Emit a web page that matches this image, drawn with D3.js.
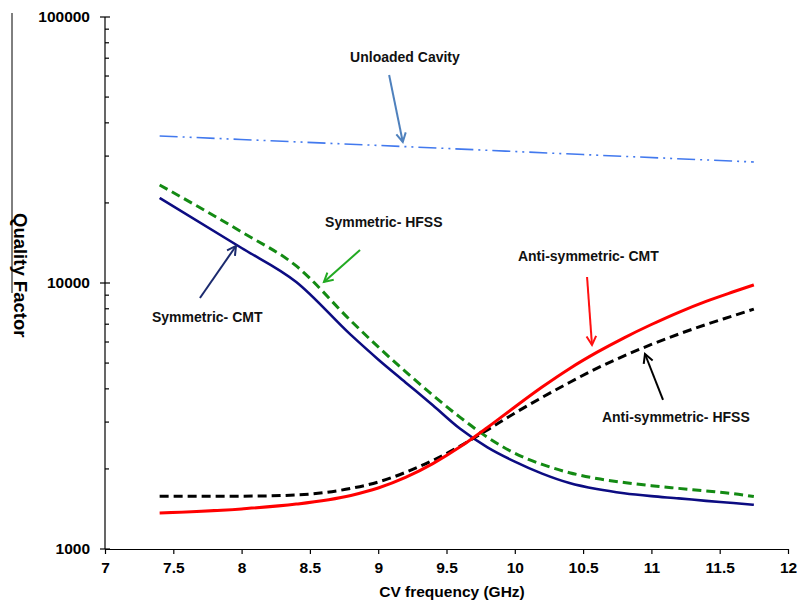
<!DOCTYPE html>
<html>
<head>
<meta charset="utf-8">
<script src="https://cdn.jsdelivr.net/npm/d3@7"></script>
<style>
  body { margin: 0; background: #fff; }
  svg text { font-family: "Liberation Sans", Arial, sans-serif; }
</style>
</head>
<body>
<svg id="chart" width="797" height="600"></svg>
<script>
// frequency samples (GHz)
var freq = [7.4, 8.0, 8.4, 8.8, 9.0, 9.2, 9.4, 9.6, 9.8, 10.0, 10.2, 10.4, 10.6, 10.8, 11.0, 11.2, 11.4, 11.6, 11.75];

// quality factor series
var symCMT   = [20870, 13540, 10090, 6380, 5160, 4230, 3470, 2830, 2410, 2130, 1920, 1770, 1680, 1620, 1580, 1550, 1517, 1489, 1466];
var symHFSS  = [23360, 15550, 11590, 7210, 5750, 4645, 3785, 3125, 2630, 2290, 2080, 1936, 1841, 1778, 1730, 1690, 1652, 1614, 1574];
var antiCMT  = [1365, 1415, 1475, 1590, 1695, 1858, 2094, 2421, 2864, 3420, 4064, 4764, 5483, 6223, 6982, 7762, 8531, 9268, 9840];
var antiHFSS = [1580, 1580, 1596, 1690, 1786, 1941, 2153, 2438, 2805, 3243, 3715, 4227, 4775, 5321, 5875, 6427, 6982, 7534, 7980];

var cavFreq = [7.4, 9.0, 10.5, 11.75];
var cavQ    = [35700, 32900, 30400, 28500];

var xTicks = [7, 7.5, 8, 8.5, 9, 9.5, 10, 10.5, 11, 11.5, 12];
var yTicks = [1000, 10000, 100000];

var svg = d3.select("#chart");

var x = d3.scaleLinear().domain([7, 12]).range([105, 788]);
var y = d3.scaleLog().domain([1000, 100000]).range([549, 17]);

// y axis: major ticks cross the axis, minor ticks point inward
var minor = [];
[1000, 10000].forEach(function(d) {
  for (var k = 2; k <= 9; k++) minor.push(d * k);
});

svg.append("line")
    .attr("x1", x(7)).attr("x2", x(7))
    .attr("y1", y(100000)).attr("y2", y(1000))
    .attr("stroke", "#000").attr("stroke-width", 1.2);

svg.selectAll(".ymaj")
    .data(yTicks)
  .enter().append("line")
    .attr("x1", x(7) - 5).attr("x2", x(7) + 5)
    .attr("y1", function(d) { return y(d); })
    .attr("y2", function(d) { return y(d); })
    .attr("stroke", "#000").attr("stroke-width", 1.2);

svg.selectAll(".ymin")
    .data(minor)
  .enter().append("line")
    .attr("x1", x(7)).attr("x2", x(7) + 4)
    .attr("y1", function(d) { return y(d); })
    .attr("y2", function(d) { return y(d); })
    .attr("stroke", "#000").attr("stroke-width", 1.2);

svg.selectAll(".ylab")
    .data(yTicks)
  .enter().append("text")
    .attr("x", 90)
    .attr("y", function(d) { return y(d) + 5; })
    .attr("text-anchor", "end")
    .attr("font-size", "15.5px")
    .attr("font-weight", "bold")
    .text(function(d) { return d; });

// x axis
var xAxis = svg.append("g")
    .attr("transform", "translate(0," + y(1000) + ")")
    .call(d3.axisBottom(x).tickValues(xTicks).tickSize(5).tickSizeOuter(0)
      .tickFormat(function(d) { return d; }));
xAxis.select(".domain").attr("stroke-width", 1.2);
xAxis.selectAll(".tick line").attr("stroke-width", 1.2);
xAxis.selectAll("text")
    .attr("font-size", "15.5px")
    .attr("font-weight", "bold")
    .attr("font-family", "Liberation Sans, Arial, sans-serif")
    .attr("fill", "#000")
    .attr("dy", "1.05em");

svg.append("text")
    .attr("x", 452).attr("y", 597)
    .attr("text-anchor", "middle")
    .attr("font-size", "15.5px")
    .attr("font-weight", "bold")
    .text("CV frequency (GHz)");

// y title
svg.append("line")
    .attr("x1", 12).attr("x2", 12).attr("y1", 13).attr("y2", 293)
    .attr("stroke", "#000").attr("stroke-width", 1);
svg.append("text")
    .attr("transform", "translate(14,213) rotate(90)")
    .attr("font-size", "18.5px")
    .attr("font-weight", "bold")
    .text("Quality Factor");

// series
var line = d3.line()
    .x(function(d) { return x(d[0]); })
    .y(function(d) { return y(d[1]); })
    .curve(d3.curveMonotoneX);

function pairs(xs, ys) { return xs.map(function(v, i) { return [v, ys[i]]; }); }

svg.append("path")
    .attr("d", line(pairs(cavFreq, cavQ)))
    .attr("fill", "none").attr("stroke", "#4279ee").attr("stroke-width", 1.6)
    .attr("stroke-dasharray", "18,5,2,5,2,5");

svg.append("path")
    .attr("d", line(pairs(freq, symHFSS)))
    .attr("fill", "none").attr("stroke", "#138a13").attr("stroke-width", 3)
    .attr("stroke-dasharray", "9,5");

svg.append("path")
    .attr("d", line(pairs(freq, symCMT)))
    .attr("fill", "none").attr("stroke", "#0c0c82").attr("stroke-width", 2.6);

svg.append("path")
    .attr("d", line(pairs(freq, antiHFSS)))
    .attr("fill", "none").attr("stroke", "#000").attr("stroke-width", 3)
    .attr("stroke-dasharray", "9,5");

svg.append("path")
    .attr("d", line(pairs(freq, antiCMT)))
    .attr("fill", "none").attr("stroke", "#ff0000").attr("stroke-width", 3);

// annotations (data coordinates)
var notes = [
  {text: "Unloaded Cavity", lx: 9.196, ly: 67700, anchor: "middle", color: "#4f81bd", from: [9.08, 60500], to: [9.18, 33900]},
  {text: "Symmetric- HFSS", lx: 8.611, ly: 16240, anchor: "start", color: "#22aa22", from: [8.867, 13310], to: [8.603, 10090]},
  {text: "Symmetric- CMT", lx: 7.344, ly: 7135, anchor: "start", color: "#1b2a6e", from: [7.695, 8780], to: [7.959, 13780]},
  {text: "Anti-symmetric- CMT", lx: 10.023, ly: 12090, anchor: "start", color: "#ff1010", from: [10.529, 10530], to: [10.565, 5850]},
  {text: "Anti-symmetric- HFSS", lx: 10.638, ly: 3000, anchor: "start", color: "#000", from: [11.085, 3633], to: [10.953, 5409]}
];

notes.forEach(function(n) {
  var x1 = x(n.from[0]), y1 = y(n.from[1]), x2 = x(n.to[0]), y2 = y(n.to[1]);
  svg.append("line")
      .attr("x1", x1).attr("y1", y1).attr("x2", x2).attr("y2", y2)
      .attr("stroke", n.color).attr("stroke-width", 2);
  var a = Math.atan2(y2 - y1, x2 - x1), L = 10, s = 0.5;
  svg.append("path")
      .attr("d", "M" + (x2 - L * Math.cos(a - s)) + "," + (y2 - L * Math.sin(a - s)) +
                 "L" + x2 + "," + y2 +
                 "L" + (x2 - L * Math.cos(a + s)) + "," + (y2 - L * Math.sin(a + s)))
      .attr("fill", "none").attr("stroke", n.color).attr("stroke-width", 2);
  svg.append("text")
      .attr("x", x(n.lx)).attr("y", y(n.ly))
      .attr("text-anchor", n.anchor)
      .attr("font-family", "Lato, 'Open Sans', sans-serif")
      .attr("font-size", "14px")
      .attr("font-weight", "bold")
      .attr("fill", "#111")
      .text(n.text);
});
</script>
</body>
</html>
